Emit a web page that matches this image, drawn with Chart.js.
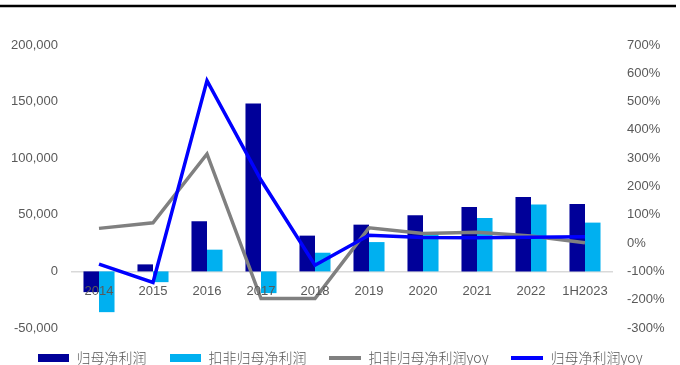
<!DOCTYPE html>
<html>
<head>
<meta charset="utf-8">
<script src="https://cdn.jsdelivr.net/npm/chart.js@4"></script>
<style>
  html, body { margin: 0; padding: 0; background: #fff; }
  #wrap { width: 680px; height: 365px; position: relative; }
</style>
</head>
<body>
<div id="wrap"><canvas id="profitChart"></canvas></div>
<script>
var years = ['2014', '2015', '2016', '2017', '2018', '2019', '2020', '2021', '2022', '1H2023'];
var netProfit = [-18300, 6200, 44300, 148400, 31600, 41300, 49600, 56900, 65700, 59600];
var deductedProfit = [-36000, -9500, 19200, -19200, 16500, 25900, 33000, 47200, 59000, 43100];
var deductedYoy = [52, 72, 315, -196, -196, 54, 34, 38, 25, 1];
var netYoy = [-74, -139, 574, 223, -78, 28, 20, 19, 21, 22];

var tickColor = '#595959';

// small canvases used as legend markers
function swatch(color, w, h) {
    var c = document.createElement('canvas');
    c.width = w;
    c.height = h;
    var g = c.getContext('2d');
    g.fillStyle = color;
    g.fillRect(0, 0, w, h);
    return c;
}

// thick rule across the top of the page
var topRule = {
    id: 'topRule',
    afterDraw: function (chart) {
        var ctx = chart.ctx;
        ctx.save();
        ctx.strokeStyle = '#000';
        ctx.lineWidth = 2.5;
        ctx.beginPath();
        ctx.moveTo(0, 6);
        ctx.lineTo(676, 6);
        ctx.stroke();
        ctx.restore();
    }
};

document.addEventListener("DOMContentLoaded", function () {
    var ctx = document.getElementById('profitChart').getContext('2d');
    new Chart(ctx, {
        data: {
            labels: years,
            datasets: [{
                type: 'bar',
                label: '归母净利润',
                data: netProfit,
                backgroundColor: '#000099',
                yAxisID: 'y',
                order: 3,
                pointStyle: swatch('#000099', 31, 8)
            }, {
                type: 'bar',
                label: '扣非归母净利润',
                data: deductedProfit,
                backgroundColor: '#00B0F0',
                yAxisID: 'y',
                order: 3,
                pointStyle: swatch('#00B0F0', 31, 8)
            }, {
                type: 'line',
                label: '扣非归母净利润yoy',
                data: deductedYoy,
                borderColor: '#808080',
                backgroundColor: '#808080',
                borderWidth: 3.5,
                pointRadius: 0,
                tension: 0,
                yAxisID: 'y1',
                order: 2,
                pointStyle: swatch('#808080', 32, 4)
            }, {
                type: 'line',
                label: '归母净利润yoy',
                data: netYoy,
                borderColor: '#0000FF',
                backgroundColor: '#0000FF',
                borderWidth: 3.5,
                pointRadius: 0,
                tension: 0,
                yAxisID: 'y1',
                order: 1,
                pointStyle: swatch('#0000FF', 32, 4)
            }]
        },
        options: {
            responsive: true,
            maintainAspectRatio: false,
            animation: false,
            datasets: {
                bar: {
                    categoryPercentage: 0.575,
                    barPercentage: 1
                }
            },
            layout: {
                padding: { top: 45, left: 0, right: 0, bottom: -10 }
            },
            scales: {
                x: {
                    position: { y: 0 },
                    grid: { display: false, drawTicks: false },
                    border: { display: true, color: '#d9d9d9', width: 1.5 },
                    ticks: {
                        z: 1,
                        color: tickColor,
                        padding: 12,
                        maxRotation: 0,
                        autoSkip: false,
                        font: { family: 'Liberation Sans', size: 13 }
                    }
                },
                y: {
                    position: 'left',
                    min: -50000,
                    max: 200000,
                    grid: { display: false, drawTicks: false },
                    border: { display: false },
                    ticks: {
                        stepSize: 50000,
                        color: tickColor,
                        padding: 14,
                        font: { family: 'Liberation Sans', size: 13 },
                        callback: function (v) { return v.toLocaleString('en-US'); }
                    },
                    afterFit: function (scale) { scale.width = 72; }
                },
                y1: {
                    position: 'right',
                    min: -300,
                    max: 700,
                    grid: { display: false, drawTicks: false },
                    border: { display: false },
                    ticks: {
                        stepSize: 100,
                        color: tickColor,
                        padding: 15,
                        font: { family: 'Liberation Sans', size: 13 },
                        callback: function (v) { return v + '%'; }
                    },
                    afterFit: function (scale) { scale.width = 68; }
                }
            },
            plugins: {
                legend: {
                    position: 'bottom',
                    labels: {
                        usePointStyle: true,
                        pointStyleWidth: 32,
                        padding: 23,
                        color: tickColor,
                        font: { family: 'Noto Sans CJK SC', size: 14, weight: 300 },
                        sort: function (a, b) { return a.datasetIndex - b.datasetIndex; }
                    }
                },
                tooltip: { enabled: false }
            }
        },
        plugins: [topRule]
    });
});
</script>
</body>
</html>
